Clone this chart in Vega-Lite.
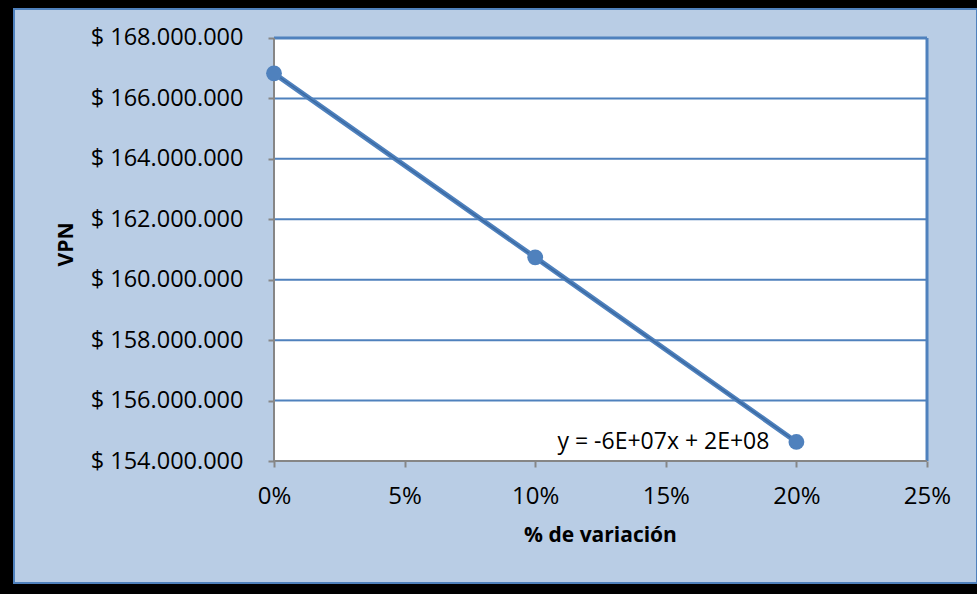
{
  "$schema": "https://vega.github.io/schema/vega-lite/v6.json",
  "autosize": "none",
  "width": 963,
  "height": 574,
  "padding": {"left": 14, "top": 9, "right": 0, "bottom": 11},
  "background": "#000000",
  "config": {
    "locale": {"number": {"decimal": ",", "thousands": ".", "grouping": [3], "currency": ["$ ", ""]}},
    "view": {"fill": "#b9cde5", "stroke": "#4f81bd", "strokeWidth": 2},
    "font": "Open Sans",
    "axis": {"labelFont": "Open Sans", "titleFont": "Open Sans", "labelColor": "#000000", "titleColor": "#000000"}
  },
  "datasets": {
    "vpn": [
      {"variacion": 0.0, "vpn": 166830000},
      {"variacion": 0.1, "vpn": 160740000},
      {"variacion": 0.2, "vpn": 154630000}
    ],
    "grid": [
      {"nivel": 156000000},
      {"nivel": 158000000},
      {"nivel": 160000000},
      {"nivel": 162000000},
      {"nivel": 164000000},
      {"nivel": 166000000}
    ]
  },
  "layer": [
    {
      "data": {"values": [{}]},
      "mark": {"type": "rect", "fill": "#ffffff"},
      "encoding": {
        "x": {
          "datum": 0,
          "type": "quantitative",
          "scale": {"domain": [-0.09954, 0.26914], "nice": false, "zero": false},
          "axis": {
            "values": [0, 0.05, 0.1, 0.15, 0.2, 0.25],
            "format": ".0%",
            "offset": -122,
            "domain": false,
            "grid": false,
            "ticks": true,
            "tickSize": 6,
            "tickWidth": 2,
            "tickColor": "#868686",
            "labelFontSize": 24,
            "labelPadding": 17,
            "title": "% de variación",
            "titleFontSize": 21,
            "titleFontWeight": "bold",
            "titleX": 586,
            "titleY": 74,
            "titleAlign": "center",
            "titleBaseline": "middle"
          }
        },
        "x2": {"datum": 0.25},
        "y": {
          "datum": 154000000,
          "type": "quantitative",
          "scale": {"domain": [149962200, 168959800], "nice": false, "zero": false},
          "axis": {
            "values": [154000000, 156000000, 158000000, 160000000, 162000000, 164000000, 166000000, 168000000],
            "format": "$,.0f",
            "offset": -260,
            "domain": false,
            "grid": false,
            "tickSize": 6,
            "tickWidth": 2,
            "tickColor": "#868686",
            "labelFontSize": 23.5,
            "labelPadding": 25,
            "title": "VPN",
            "titleFontSize": 21,
            "titleFontWeight": "bold",
            "titleAngle": 270,
            "titleX": -208,
            "titleY": 235,
            "titleAlign": "center",
            "titleBaseline": "middle"
          }
        },
        "y2": {"datum": 168000000}
      }
    },
    {
      "data": {"name": "grid"},
      "mark": {"type": "rule", "color": "#4f81bd", "strokeWidth": 2},
      "encoding": {
        "x": {"datum": 0, "type": "quantitative"},
        "x2": {"datum": 0.25},
        "y": {"field": "nivel", "type": "quantitative"}
      }
    },
    {
      "data": {"values": [{}]},
      "mark": {"type": "rule", "color": "#4f81bd", "strokeWidth": 3},
      "encoding": {
        "x": {"datum": 0, "type": "quantitative"},
        "x2": {"datum": 0.25},
        "y": {"datum": 168000000, "type": "quantitative"}
      }
    },
    {
      "data": {"values": [{}]},
      "mark": {"type": "rule", "color": "#4f81bd", "strokeWidth": 3},
      "encoding": {
        "x": {"datum": 0.25, "type": "quantitative"},
        "y": {"datum": 154000000, "type": "quantitative"},
        "y2": {"datum": 168000000}
      }
    },
    {
      "data": {"values": [{}]},
      "mark": {"type": "rule", "color": "#868686", "strokeWidth": 2},
      "encoding": {
        "x": {"datum": 0, "type": "quantitative"},
        "y": {"datum": 154000000, "type": "quantitative"},
        "y2": {"datum": 168000000}
      }
    },
    {
      "data": {"values": [{}]},
      "mark": {"type": "rule", "color": "#868686", "strokeWidth": 2},
      "encoding": {
        "x": {"datum": 0, "type": "quantitative"},
        "x2": {"datum": 0.25},
        "y": {"datum": 154000000, "type": "quantitative"}
      }
    },
    {
      "data": {"name": "vpn"},
      "mark": {"type": "line", "color": "#4f81bd", "strokeWidth": 5},
      "encoding": {
        "x": {"field": "variacion", "type": "quantitative"},
        "y": {"field": "vpn", "type": "quantitative"}
      }
    },
    {
      "data": {"name": "vpn"},
      "transform": [{"regression": "vpn", "on": "variacion"}],
      "mark": {"type": "line", "color": "#3a6aa3", "strokeWidth": 1.5},
      "encoding": {
        "x": {"field": "variacion", "type": "quantitative"},
        "y": {"field": "vpn", "type": "quantitative"}
      }
    },
    {
      "data": {"name": "vpn"},
      "mark": {"type": "circle", "size": 250, "opacity": 1, "color": "#4f81bd"},
      "encoding": {
        "x": {"field": "variacion", "type": "quantitative"},
        "y": {"field": "vpn", "type": "quantitative"}
      }
    },
    {
      "data": {"values": [{"ecuacion": "y = -6E+07x + 2E+08"}]},
      "mark": {"type": "text", "font": "Open Sans", "fontSize": 23, "color": "#000000", "align": "center", "baseline": "middle"},
      "encoding": {
        "x": {"datum": 0.1491, "type": "quantitative"},
        "y": {"datum": 154630000, "type": "quantitative"},
        "text": {"field": "ecuacion"}
      }
    }
  ]
}
